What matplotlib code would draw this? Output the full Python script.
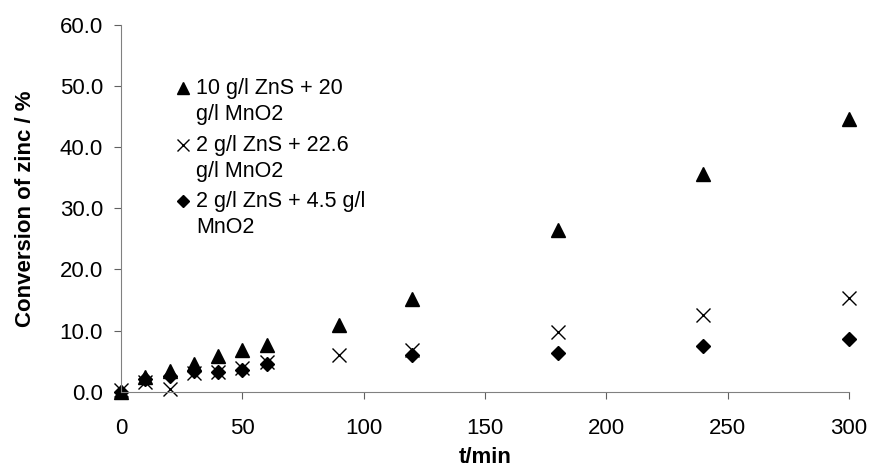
import matplotlib.pyplot as plt
import numpy as np

plt.rcParams['font.family'] = ['Liberation Sans', 'DejaVu Sans']

# time points (min) and conversions (%)
t_a = [0, 10, 20, 30, 40, 50, 60, 90, 120, 180, 240, 300]
conv_a = [0.0, 2.4, 3.4, 4.6, 5.9, 6.9, 7.6, 10.9, 15.1, 26.5, 35.6, 44.6]

t_b = [0, 10, 20, 30, 40, 50, 60, 90, 120, 180, 240, 300]
conv_b = [0.3, 1.6, 0.4, 3.0, 3.2, 3.8, 4.8, 6.0, 6.9, 9.8, 12.6, 15.4]

t_c = [0, 10, 20, 30, 40, 50, 60, 120, 180, 240, 300]
conv_c = [0.0, 2.1, 2.6, 3.4, 3.2, 3.6, 4.5, 6.0, 6.4, 7.5, 8.7]

labels = ['10 g/l ZnS + 20\ng/l MnO2',
          '2 g/l ZnS + 22.6\ng/l MnO2',
          '2 g/l ZnS + 4.5 g/l\nMnO2']

fig = plt.figure(figsize=(8.72, 4.70), dpi=100)
ax = fig.add_axes([0.1388, 0.1666, 0.8348, 0.7802])

ax.plot(t_a, conv_a, '^', color='black', markersize=10, label=labels[0], clip_on=False)
ax.plot(t_b, conv_b, 'x', color='black', markersize=10, markeredgewidth=1.0, label=labels[1], clip_on=False)
ax.plot(t_c, conv_c, 'D', color='black', markersize=7, label=labels[2], clip_on=False)

ax.set_xlim(0, 300)
ax.set_ylim(0, 60)
ax.set_xticks(np.arange(0, 301, 50))
ax.set_yticks(np.arange(0, 61, 10))
ax.set_yticklabels(['%.1f' % v for v in np.arange(0, 61, 10)])

for s in ['top', 'right']:
    ax.spines[s].set_visible(False)
for s in ['left', 'bottom']:
    ax.spines[s].set_color('#808080')
ax.tick_params(direction='out', length=5, color='#606060', labelsize=16)
ax.tick_params(axis='x', pad=14)
ax.tick_params(axis='y', pad=8)

ax.set_xlabel('t/min', fontsize=16, fontweight='bold', labelpad=6)
ax.set_ylabel('Conversion of zinc / %', fontsize=16, fontweight='bold', labelpad=17)

leg = ax.legend(loc='upper left', bbox_to_anchor=(0.06, 0.878), frameon=False,
                fontsize=15.5, handletextpad=0.15, handlelength=0.9, labelspacing=0.45,
                borderaxespad=0, markerscale=0.85)
for txt in leg.get_texts():
    txt.set_linespacing(1.3)
# put each marker level with the first line of its label
for h in leg.legend_handles:
    h.set_ydata(np.asarray(h.get_ydata()) + 10)

fig.savefig('out.png', dpi=100)
